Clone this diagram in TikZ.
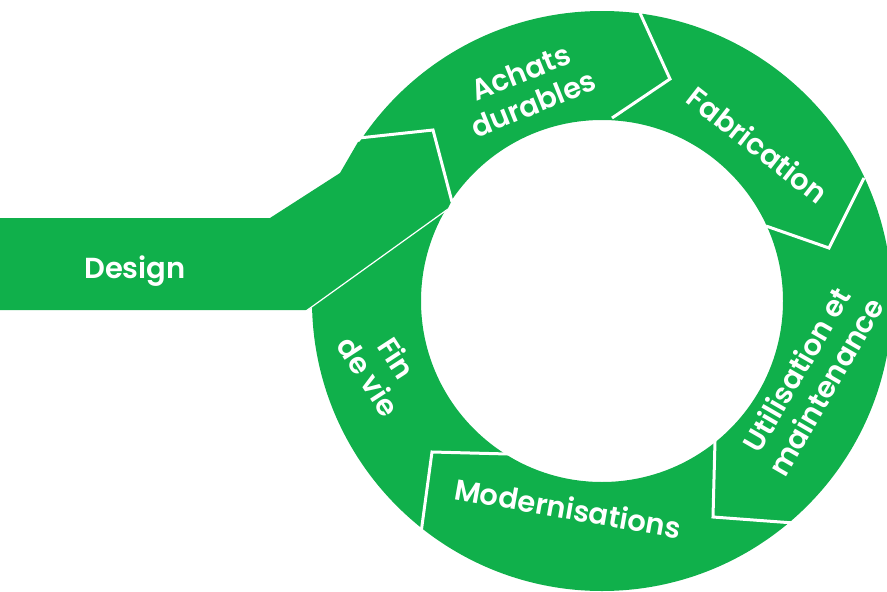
\documentclass[tikz,border=0pt]{standalone}
\usepackage{fontspec}
\setmainfont{Poppins}[BoldFont={* SemiBold}]
\definecolor{ecogreen}{RGB}{16,176,75}
\begin{document}
\begin{tikzpicture}[x=1pt,y=-1pt,
  lbl/.style={text=white,font=\bfseries\fontsize{29}{34}\selectfont,align=center,inner sep=0pt},
  sep/.style={draw=white,line width=3pt,line join=miter},
  thinsep/.style={draw=white,line width=1.2pt}]
\useasboundingbox (0,0) rectangle (887,592);
\clip (0,0) rectangle (887,592);
\coordinate (C) at (602,301);
% ring
\fill[ecogreen,even odd rule] (C) circle[radius=290] (C) circle[radius=181];
% design band
\fill[ecogreen] (0,218) -- (270,218) -- (340,173) -- (358,142) -- (433,130) -- (452,200) -- (447,210) -- (308,310) -- (0,310) -- cycle;
% separators
\coordinate (a1) at (640,13);  \coordinate (a2) at (670,79);  \coordinate (a3) at (612,118);
\coordinate (b1) at (864,178); \coordinate (b2) at (829,248); \coordinate (b3) at (766,226);
\coordinate (c1) at (715,441); \coordinate (c2) at (713,517); \coordinate (c3) at (794,523);
\coordinate (d1) at (508,454); \coordinate (d2) at (432,452); \coordinate (d3) at (421,533);
\coordinate (e1) at (359,138); \coordinate (e2) at (433,130); \coordinate (e3) at (452,202);
\coordinate (f1) at (306,311); \coordinate (f2) at (448,209);
\draw[sep] (a1) -- (a2) -- (a3);
\draw[sep] (b1) -- (b2) -- (b3);
\draw[sep] (c1) -- (c2) -- (c3);
\draw[sep] (d1) -- (d2) -- (d3);
\draw[sep] (e1) -- (e2) -- (e3);
\draw[thinsep] (f1) -- (f2);
% labels
\node[lbl,rotate=22] (achats) at (527,88) {Achats\\durables};
\node[lbl,rotate=-38] (fab) at (758,145) {Fabrication};
\node[lbl,rotate=60] (util) at (811,378) {Utilisation et\\maintenance};
\node[lbl,rotate=-10] (mod) at (568,508) {Modernisations};
\node[lbl,rotate=-57] (fin) at (383,367) {Fin\\de vie};
\node[lbl] (design) at (135,271) {Design};
\end{tikzpicture}
\end{document}
